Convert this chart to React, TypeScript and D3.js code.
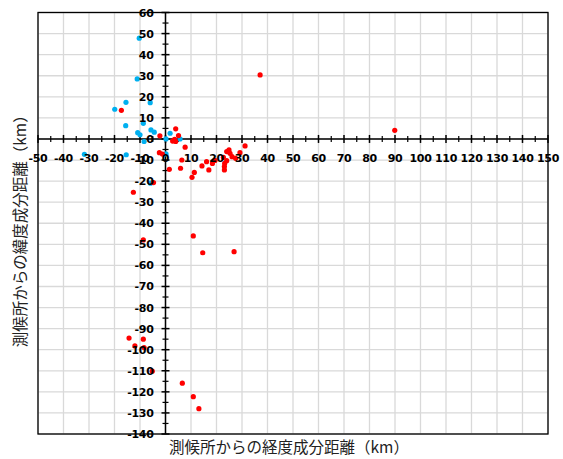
import React, { useEffect, useRef } from 'react';
import * as d3 from 'd3';

// 経度成分距離 (km), 緯度成分距離 (km)
const bluePoints: [number, number][] = [
    [-10.3, 47.8], [-11.1, 28.5], [-15.5, 17.4], [-6, 17.2], [-19.9, 14.1],
    [-15.6, 6.3], [-8.7, 7.4], [-10.9, 3], [-10, 2], [-5.7, 4.3],
    [-4.4, 3.2], [-8.4, -1.2], [1.8, 2.7], [0.2, 0], [5.7, 0],
    [-31.8, -7.3], [-15.4, -7.5], [0.2, -7.1], [-5.9, -21]
];

const redPoints: [number, number][] = [
    [-17.3, 13.6], [-2.2, 1.5], [4, 4.8], [5.1, 1.6], [3.3, -0.5],
    [2.8, -1], [4, -1.2], [3.6, -0.2], [7.7, -3.9], [-2.4, -6.5],
    [-1.2, -7.2], [1.5, -14.4], [6.4, -10], [5.9, -13.9], [10.4, -18.2],
    [11.3, -15.9], [14.3, -12.8], [16.1, -10.8], [17, -14.7], [18.4, -11.6],
    [19.4, -10.2], [22.7, -8.7], [23.2, -11.6], [23.1, -13.1], [23.1, -14.7],
    [24, -10.3], [24.9, -5.2], [24, -6], [25.3, -6.8], [26.1, -8.4],
    [27.5, -9.2], [29.2, -6.5], [31.2, -3.3], [37.1, 30.4], [89.9, 4.1],
    [-4.7, -20.7], [-12.6, -25.3], [10.9, -46], [14.6, -54], [26.9, -53.5],
    [-8.7, -47.9], [-14.3, -94.5], [-12, -98.2], [-8.7, -95], [-8.4, -99],
    [-5.2, -110.2], [6.6, -115.9], [10.9, -122.3], [13.1, -128]
];

const xDomain: [number, number] = [-50, 150];
const yDomain: [number, number] = [-140, 60];
const xTitle = '測候所からの経度成分距離（km）';
const yTitle = '測候所からの緯度成分距離（km）';

export default function App() {
    const svgRef = useRef<SVGSVGElement>(null);

    useEffect(() => {
        document.body.style.margin = '0';
        if (!svgRef.current) return;

        const width = 563;
        const height = 459;
        const svg = d3.select(svgRef.current);
        svg.selectAll('*').remove();

        const left = 38, right = 548, top = 12.5, bottom = 434;
        const x = d3.scaleLinear().domain(xDomain).range([left, right]);
        const y = d3.scaleLinear().domain(yDomain).range([bottom, top]);

        svg.append('rect').attr('width', width).attr('height', height).attr('fill', '#fff');

        const majorX = d3.range(xDomain[0], xDomain[1] + 1, 10);
        const majorY = d3.range(yDomain[0], yDomain[1] + 1, 10);
        const minorX = d3.range(xDomain[0], xDomain[1] + 1, 5).filter(v => v % 10 !== 0);
        const minorY = d3.range(yDomain[0], yDomain[1] + 1, 5).filter(v => v % 10 !== 0);

        // gridlines
        const grid = svg.append('g').attr('stroke', '#d9d9d9').attr('stroke-width', 1.3);
        grid.selectAll('.gx').data(majorX).enter().append('line')
            .attr('x1', d => x(d)).attr('x2', d => x(d))
            .attr('y1', top).attr('y2', bottom);
        grid.selectAll('.gy').data(majorY).enter().append('line')
            .attr('y1', d => y(d)).attr('y2', d => y(d))
            .attr('x1', left).attr('x2', right);

        // plot border
        svg.append('rect')
            .attr('x', left).attr('y', top)
            .attr('width', right - left).attr('height', bottom - top)
            .attr('fill', 'none').attr('stroke', '#000').attr('stroke-width', 1.3);

        const x0 = x(0), y0 = y(0);
        const axes = svg.append('g').attr('stroke', '#000').attr('stroke-width', 1.5);
        axes.append('line').attr('x1', left).attr('x2', right).attr('y1', y0).attr('y2', y0);
        axes.append('line').attr('x1', x0).attr('x2', x0).attr('y1', top).attr('y2', bottom);

        // ticks (cross)
        axes.selectAll('.tx').data(majorX).enter().append('line')
            .attr('x1', d => x(d)).attr('x2', d => x(d))
            .attr('y1', y0 - 4).attr('y2', y0 + 4);
        axes.selectAll('.tmx').data(minorX).enter().append('line')
            .attr('x1', d => x(d)).attr('x2', d => x(d))
            .attr('y1', y0 - 3).attr('y2', y0 + 3).attr('stroke-width', 1.2);
        axes.selectAll('.ty').data(majorY).enter().append('line')
            .attr('y1', d => y(d)).attr('y2', d => y(d))
            .attr('x1', x0 - 4).attr('x2', x0 + 4);
        axes.selectAll('.tmy').data(minorY).enter().append('line')
            .attr('y1', d => y(d)).attr('y2', d => y(d))
            .attr('x1', x0 - 3).attr('x2', x0 + 3).attr('stroke-width', 1.2);

        // points
        svg.append('g').selectAll('circle').data(bluePoints).enter().append('circle')
            .attr('cx', d => x(d[0])).attr('cy', d => y(d[1]))
            .attr('r', 2.6).attr('fill', '#00b0f0');
        svg.append('g').selectAll('circle').data(redPoints).enter().append('circle')
            .attr('cx', d => x(d[0])).attr('cy', d => y(d[1]))
            .attr('r', 2.6).attr('fill', '#ff0000');

        // tick labels
        const font = '"DejaVu Sans", sans-serif';
        svg.append('g').selectAll('text').data(majorX).enter().append('text')
            .attr('x', d => x(d)).attr('y', y0 + 23)
            .attr('text-anchor', 'middle')
            .attr('font-family', font).attr('font-weight', 'bold').attr('font-size', 11)
            .attr('letter-spacing', -0.3)
            .attr('fill', '#000')
            .text(d => String(d));
        svg.append('g').selectAll('text').data(majorY).enter().append('text')
            .attr('x', x0 - 12).attr('y', d => y(d) + 4)
            .attr('text-anchor', 'end')
            .attr('font-family', font).attr('font-weight', 'bold').attr('font-size', 11)
            .attr('letter-spacing', -0.3)
            .attr('fill', '#000')
            .text(d => String(d));

        // axis titles
        const titleFont = '"Noto Sans CJK JP", sans-serif';
        svg.append('text')
            .attr('x', (left + right) / 2 - 4).attr('y', 453)
            .attr('text-anchor', 'middle')
            .attr('font-family', titleFont).attr('font-size', 15.5).attr('fill', '#222')
            .text(xTitle);
        svg.append('text')
            .attr('transform', `translate(26,${(top + bottom) / 2 + 4}) rotate(-90)`)
            .attr('text-anchor', 'middle')
            .attr('font-family', titleFont).attr('font-size', 15.5).attr('fill', '#222')
            .text(yTitle);
    }, []);

    return <svg ref={svgRef} width={563} height={459} style={{ display: 'block' }} />;
}
